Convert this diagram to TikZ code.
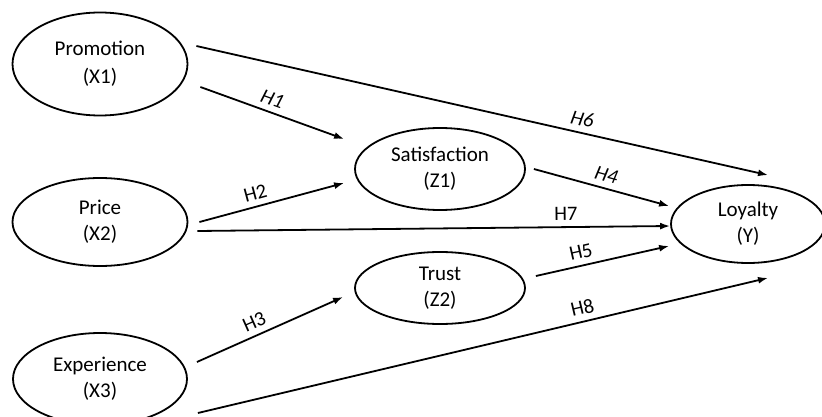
\documentclass[tikz,border=0pt]{standalone}
\usepackage{fontspec}
\setmainfont{Carlito}
\usetikzlibrary{shapes.geometric,arrows.meta}
\begin{document}
\begin{tikzpicture}[x=1pt,y=-1pt,
  construct/.style={draw, ellipse, line width=1.8pt, inner sep=0pt, align=center,
    font=\fontsize{21}{26}\selectfont},
  path/.style={line width=1.8pt, -{Latex[length=10pt,width=7pt]}},
  hyp/.style={sloped, above=6pt, inner sep=0pt, font=\fontsize{20.5}{24}\selectfont},
  hypit/.style={hyp, font=\fontsize{20.5}{24}\selectfont\itshape}]
\useasboundingbox (0,0) rectangle (822,417);
\node[construct, minimum width=175pt, minimum height=103pt, font=\fontsize{21}{28}\selectfont] (prom) at (100,64) {Promotion\\(X1)};
\node[construct, minimum width=175pt, minimum height=88pt] (price) at (100,222) {Price\\(X2)};
\node[construct, minimum width=174pt, minimum height=92pt] (exp) at (100,379) {Experience\\(X3)};
\node[construct, minimum width=170pt, minimum height=82pt] (sat) at (440,169) {Satisfaction\\(Z1)};
\node[construct, minimum width=170pt, minimum height=72pt] (trust) at (440,288) {Trust\\(Z2)};
\node[construct, minimum width=154pt, minimum height=78pt] (loy) at (748,224) {Loyalty\\(Y)};

\draw[path] ([shift={(8,-18)}]prom.east) -- node[hypit, pos=0.67] {H6} ([shift={(20,-9)}]loy.north);
\draw[path] ([shift={(12,23)}]prom.east) -- node[hypit, pos=0.47] {H1} ([shift={(-10,-30)}]sat.west);
\draw[path] ([shift={(11,0)}]price.east) -- node[hyp, pos=0.41] {H2} ([shift={(-10,14)}]sat.west);
\draw[path] ([shift={(9,9)}]price.east) -- node[hyp, pos=0.78] {H7} ([shift={(0,2)}]loy.west);
\draw[path] ([shift={(8,0)}]sat.east) -- node[hypit, pos=0.51] {H4} ([shift={(-1,-18)}]loy.west);
\draw[path] ([shift={(10,-12)}]trust.east) -- node[hyp, pos=0.36] {H5} ([shift={(-1,22)}]loy.west);
\draw[path] ([shift={(9,-17)}]exp.east) -- node[hyp, pos=0.43] {H3} ([shift={(-11,9)}]trust.west);
\draw[path] ([shift={(10,34)}]exp.east) -- node[hyp, pos=0.68] {H8} ([shift={(20,14)}]loy.south);
\end{tikzpicture}
\end{document}
